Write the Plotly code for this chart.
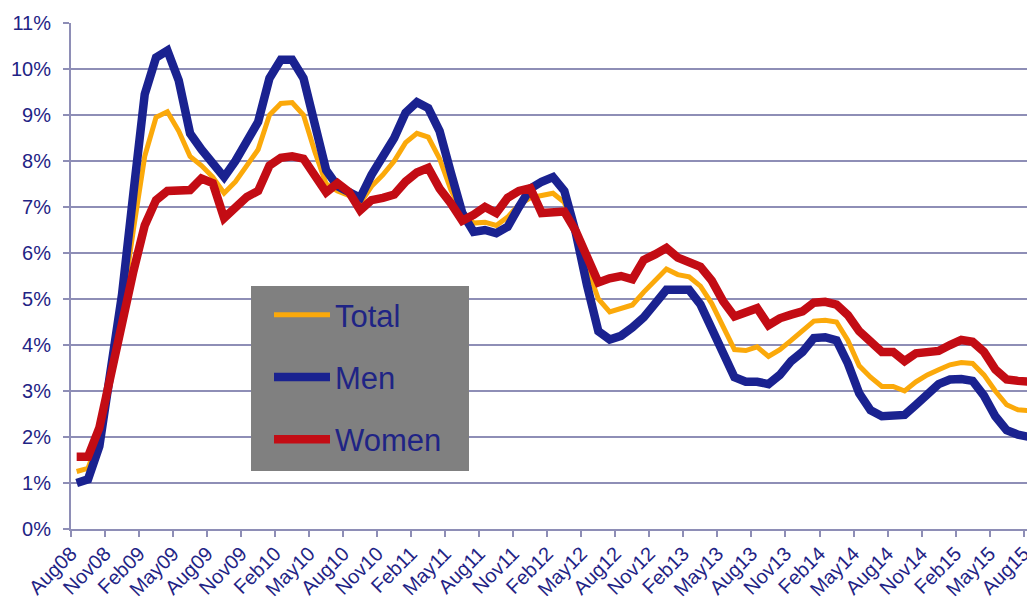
import plotly.graph_objects as go

tick_labels = ["Aug08", "Nov08", "Feb09", "May09", "Aug09", "Nov09", "Feb10", "May10", "Aug10",
               "Nov10", "Feb11", "May11", "Aug11", "Nov11", "Feb12", "May12", "Aug12", "Nov12",
               "Feb13", "May13", "Aug13", "Nov13", "Feb14", "May14", "Aug14", "Nov14", "Feb15",
               "May15", "Aug15"]

total = [1.25, 1.32, 2.0, 3.4, 4.8, 6.5, 8.1, 8.95, 9.07, 8.65, 8.1, 7.9, 7.65, 7.3, 7.55, 7.9,
         8.25, 9.0, 9.25, 9.27, 9.0, 8.2, 7.5, 7.35, 7.25, 7.08, 7.45, 7.7, 8.0, 8.4, 8.6, 8.52,
         8.05, 7.37, 6.9, 6.65, 6.67, 6.6, 6.78, 7.05, 7.2, 7.25, 7.3, 7.1, 6.4, 5.65, 5.0, 4.72,
         4.8, 4.87, 5.15, 5.4, 5.65, 5.53, 5.48, 5.28, 4.9, 4.4, 3.9, 3.88, 3.96, 3.75, 3.9, 4.1,
         4.3, 4.52, 4.54, 4.5, 4.1, 3.55, 3.3, 3.1, 3.1, 3.0, 3.2, 3.35, 3.46, 3.57, 3.62, 3.6,
         3.35, 3.0, 2.7, 2.59, 2.57]

men = [1.0, 1.08, 1.8, 3.45, 5.1, 7.3, 9.45, 10.25, 10.4, 9.75, 8.6, 8.25, 7.95, 7.65, 8.0, 8.4,
       8.85, 9.8, 10.2, 10.2, 9.8, 8.8, 7.8, 7.45, 7.3, 7.2, 7.7, 8.1, 8.5, 9.05, 9.28, 9.15,
       8.65, 7.74, 6.87, 6.46, 6.5, 6.43, 6.57, 7.0, 7.4, 7.55, 7.65, 7.35, 6.45, 5.3, 4.3, 4.12,
       4.2, 4.38, 4.6, 4.9, 5.2, 5.2, 5.2, 4.88, 4.35, 3.75, 3.3, 3.2, 3.2, 3.15, 3.35, 3.65,
       3.85, 4.15, 4.17, 4.1, 3.6, 2.95, 2.58, 2.45, 2.47, 2.48, 2.7, 2.95, 3.15, 3.25, 3.26, 3.22,
       2.9, 2.45, 2.15, 2.05, 2.0]

women = [1.57, 1.57, 2.2, 3.4, 4.45, 5.6, 6.6, 7.15, 7.35, 7.35, 7.37, 7.62, 7.52, 6.76, 7.0, 7.22,
         7.35, 7.9, 8.07, 8.1, 8.05, 7.65, 7.32, 7.52, 7.33, 6.93, 7.15, 7.2, 7.27, 7.55, 7.75, 7.85,
         7.4, 7.08, 6.7, 6.83, 7.0, 6.87, 7.2, 7.35, 7.41, 6.87, 6.9, 6.9, 6.48, 5.9, 5.36, 5.45,
         5.5, 5.43, 5.85, 5.97, 6.11, 5.9, 5.82, 5.7, 5.4, 4.95, 4.62, 4.73, 4.8, 4.43, 4.58, 4.66,
         4.73, 4.92, 4.94, 4.88, 4.65, 4.3, 4.1, 3.85, 3.85, 3.65, 3.82, 3.85, 3.87, 4.0, 4.11, 4.07,
         3.85, 3.47, 3.25, 3.22, 3.2]

x = list(range(len(total)))
# labels and tick marks sit on the 3-month category boundaries
tick_pos = [3 * i - 0.5 for i in range(len(tick_labels))]

NAVY_TXT = "#1F2485"
GRID = "#8E8EB6"
FONT = "Liberation Sans, Arial, sans-serif"

# the page body has an 8px margin, so the figure is sized/offset to compensate
fig = go.Figure()
fig.add_trace(go.Scatter(x=x, y=total, name="Total", mode="lines", legendgroup="a",
                         line=dict(color="#FBA90A", width=5)))
fig.add_trace(go.Scatter(x=x, y=men, name="Men", mode="lines", legendgroup="b",
                         line=dict(color="#1A2290", width=8.5)))
fig.add_trace(go.Scatter(x=x, y=women, name="Women", mode="lines", legendgroup="c",
                         line=dict(color="#C30C14", width=8.5)))

fig.update_layout(
    width=1027, height=592,
    margin=dict(l=63, r=0, t=15, b=71, autoexpand=False),
    plot_bgcolor="white", paper_bgcolor="white",
    font=dict(family=FONT, color=NAVY_TXT),
    showlegend=True,
    legend=dict(x=(269 - 71) / 964, y=(529 - 288) / 506, xanchor="left", yanchor="top",
                bgcolor="rgba(0,0,0,0)", font=dict(size=31, color=NAVY_TXT, family=FONT),
                tracegroupgap=19, itemwidth=56),
    shapes=[dict(type="rect", xref="paper", yref="paper", layer="above",
                 x0=(251 - 71) / 964, x1=(469 - 71) / 964,
                 y0=(529 - 471) / 506, y1=(529 - 286) / 506,
                 fillcolor="#808080", line=dict(width=0))],
)

fig.update_xaxes(range=[-0.5, 84.5], tickmode="array", tickvals=tick_pos, ticktext=tick_labels,
                 tickangle=-45, tickfont=dict(size=20, color=NAVY_TXT), ticks="outside",
                 ticklen=6, tickwidth=2, tickcolor=GRID, ticklabeloverflow="allow",
                 ticklabelstandoff=-3, automargin=False,
                 showgrid=False, zeroline=False, showline=True, linecolor=GRID, linewidth=2)
fig.update_yaxes(range=[0, 11], tickmode="linear", tick0=0, dtick=1, ticksuffix="%",
                 tickfont=dict(size=20, color=NAVY_TXT), ticks="outside", ticklen=6,
                 tickwidth=2, tickcolor=GRID, showgrid=True, gridcolor=GRID, gridwidth=2,
                 zeroline=False, showline=True, linecolor=GRID, linewidth=2,
                 ticklabelstandoff=8, automargin=False)

fig.write_html("out.html")
